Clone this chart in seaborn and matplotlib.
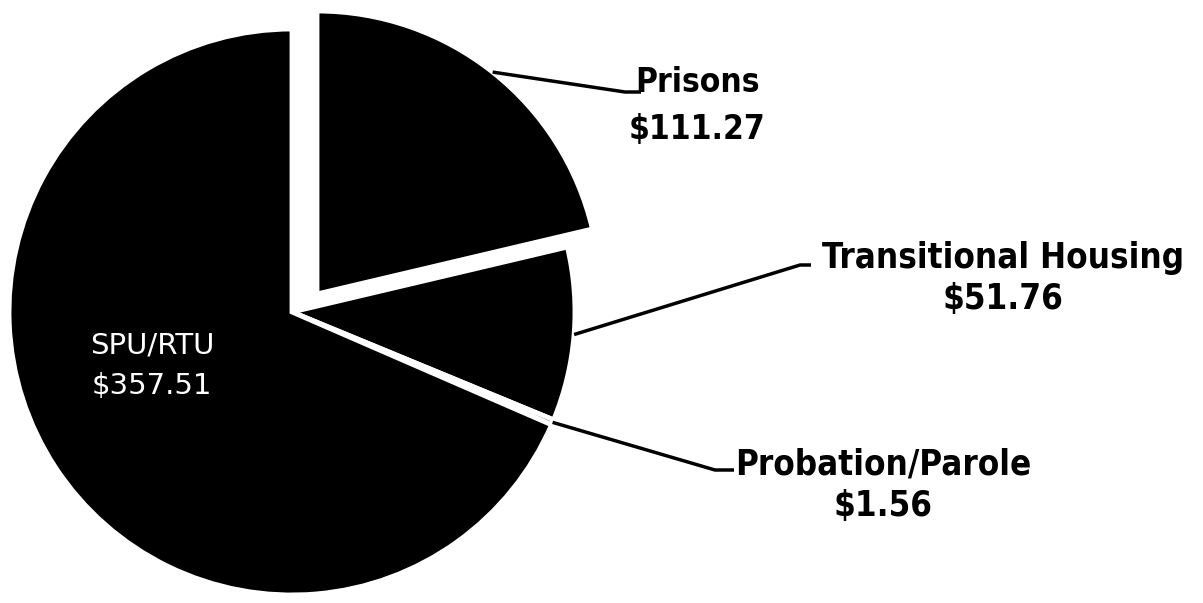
import matplotlib
matplotlib.use("Agg")
import matplotlib.pyplot as plt
import seaborn as sns
import numpy as np

# ---- data ----
categories = ["Prisons", "Transitional Housing", "Probation/Parole", "SPU/RTU"]
values = [111.27, 51.76, 1.56, 357.51]
value_labels = ["$111.27", "$51.76", "$1.56", "$357.51"]

sns.set_theme(style="white")
plt.rcParams['font.family'] = ['DejaVu Sans']

W, H = 1203, 603
fig = plt.figure(figsize=(W / 100, H / 100), dpi=100)
ax = fig.add_axes([0, 0, 1, 1])

cx, cy, r = 292, H - 312, 283
wedges, _ = ax.pie(values, colors=['black'] * 4, startangle=90, counterclock=False,
                   center=(cx, cy), radius=r,
                   wedgeprops=dict(edgecolor='white', linewidth=3.5))
# pull the Prisons slice out (offset in pixels)
wedges[0].set_center((cx + 25, cy + 18))
ax.set_xlim(0, W)
ax.set_ylim(0, H)
ax.set_aspect('equal')
ax.axis('off')

# leader lines and labels for the outer slices
elbows = {0: ((625, 92), (641, 92)),
          1: ((800, 265), (811, 265)),
          2: ((715, 470), (734, 470))}
label_pos = {0: (697, 82, 129), 1: (1003, 258, 299), 2: (883, 464, 506)}
sizes = {0: 24, 1: 25, 2: 25}
bold = dict(fontweight='bold', fontstretch='condensed', color='black',
            ha='center', va='center', family=['DejaVu Sans'])
for i in range(3):
    w = wedges[i]
    th = np.deg2rad((w.theta1 + w.theta2) / 2)
    wx, wy = w.center
    sx, sy = wx + w.r * np.cos(th), wy + w.r * np.sin(th)
    (ex, ey), (hx, hy) = elbows[i]
    ax.plot([sx, ex, hx], [sy, H - ey, H - hy], color='black', lw=2.5,
            solid_capstyle='butt')
    lx, ly1, ly2 = label_pos[i]
    ax.text(lx, H - ly1, categories[i], fontsize=sizes[i], **bold)
    ax.text(lx, H - ly2, value_labels[i], fontsize=sizes[i], **bold)

# inside label for SPU/RTU
ax.text(152, H - 345, categories[3], color='white', fontsize=21, ha='center', va='center',
        family=['DejaVu Sans'])
ax.text(152, H - 386, value_labels[3], color='white', fontsize=21, ha='center', va='center',
        family=['DejaVu Sans'])

fig.savefig("out.png", dpi=100, facecolor='white')
